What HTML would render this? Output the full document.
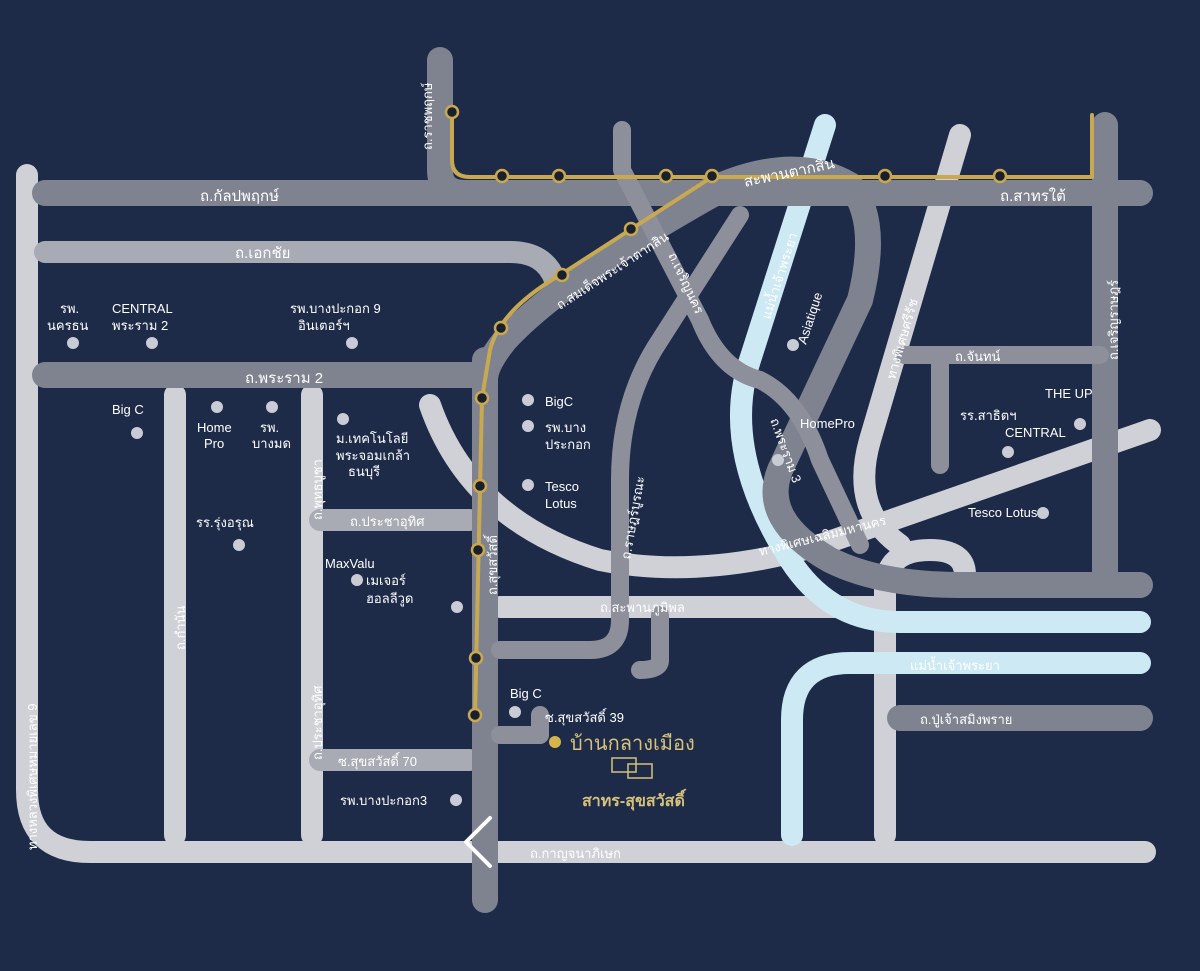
<!DOCTYPE html>
<html><head><meta charset="utf-8"><style>
html,body{margin:0;padding:0;background:#1d2a48;}
svg{display:block;font-family:"Liberation Sans","Noto Sans CJK SC",sans-serif;}
.t{fill:#fff;font-size:15px}
.s{fill:#fff;font-size:13px}
</style></head><body>
<svg width="1200" height="971" viewBox="0 0 1200 971" xmlns="http://www.w3.org/2000/svg">
<rect width="1200" height="971" fill="#1d2a48"/>
<g fill="none" stroke-linecap="round" stroke-linejoin="round">
<g stroke="#cfd1d6" stroke-width="22">
<path d="M27 175 V790 Q27 852 90 852 H1145"/>
<path d="M175 395 V835"/>
<path d="M312 395 V835"/>
<path d="M500 607 H880"/>
<path d="M430 405 Q470 520 600 560 Q700 580 820 545 L1150 430"/>
<path d="M885 835 V590 Q885 550 930 550 Q965 550 965 575"/>
<path d="M960 135 L870 440 Q850 510 900 545"/>
</g>
<g stroke="#a8abb4" stroke-width="22">
<path d="M45 252 H510 Q545 252 555 280"/>
<path d="M320 520 H470"/>
<path d="M320 760 H470"/>
</g>
<g stroke="#cde9f4" stroke-width="22">
<path d="M825 125 L750 360 Q720 450 790 560 Q830 622 900 622 H1140"/>
<path d="M792 835 V720 Q792 663 850 663 H1140"/>
</g>
<g stroke="#7f838f" stroke-width="26">
<path d="M45 193 H1140"/>
<path d="M440 60 V170 Q440 193 465 193"/>
<path d="M45 375 H480"/>
<path d="M485 360 V900"/>
<path d="M715 193 Q560 280 505 340 Q485 365 485 380"/>
<path d="M700 195 Q790 150 850 185 Q880 220 860 300 L780 470 Q760 520 830 560 Q880 585 960 585 H1140"/>
<path d="M1105 125 V585"/>
<path d="M900 718 H1140"/>
</g>
<g stroke="#8d909b" stroke-width="18">
<path d="M622 130 V170 L700 320 Q720 370 760 380 Q800 400 820 460 L860 545"/>
<path d="M740 215 L660 340 Q620 400 620 480 V620 Q620 650 590 650 H500"/>
<path d="M660 615 V660 Q660 670 640 670"/>
<path d="M500 735 H540 V715"/>
<path d="M905 355 H1100"/>
<path d="M940 360 V465"/>
</g>
<path d="M490 818 L466 842 L490 866" stroke="#ffffff" stroke-width="4"/>
<g stroke="#c8a951" stroke-width="4">
<path d="M452 112 V160 Q452 177 470 177 H1092 V115"/>
<path d="M712 177 L560 275 Q500 310 490 350 L482 398 L475 715"/>
</g>
</g>
<g fill="#1a1f2c" stroke="#c8a951" stroke-width="2.5">
<circle cx="452" cy="112" r="6"/><circle cx="502" cy="176" r="6"/><circle cx="559" cy="176" r="6"/><circle cx="666" cy="176" r="6"/><circle cx="712" cy="176" r="6"/><circle cx="885" cy="176" r="6"/><circle cx="1000" cy="176" r="6"/>
<circle cx="631" cy="229" r="6"/><circle cx="562" cy="275" r="6"/><circle cx="501" cy="328" r="6"/><circle cx="482" cy="398" r="6"/><circle cx="480" cy="486" r="6"/><circle cx="478" cy="550" r="6"/><circle cx="476" cy="658" r="6"/><circle cx="475" cy="715" r="6"/>
</g>
<g fill="#c9ccd4">
<circle cx="73" cy="343" r="6"/><circle cx="152" cy="343" r="6"/><circle cx="352" cy="343" r="6"/><circle cx="137" cy="433" r="6"/><circle cx="217" cy="407" r="6"/><circle cx="272" cy="407" r="6"/><circle cx="343" cy="419" r="6"/><circle cx="239" cy="545" r="6"/><circle cx="357" cy="580" r="6"/><circle cx="457" cy="607" r="6"/><circle cx="456" cy="800" r="6"/><circle cx="528" cy="400" r="6"/><circle cx="528" cy="426" r="6"/><circle cx="528" cy="485" r="6"/><circle cx="515" cy="712" r="6"/><circle cx="793" cy="345" r="6"/><circle cx="778" cy="460" r="6"/><circle cx="1008" cy="452" r="6"/><circle cx="1080" cy="424" r="6"/><circle cx="1043" cy="513" r="6"/>
</g>
<circle cx="555" cy="742" r="6" fill="#d6b54a"/>
<text class="t" x="200" y="201">ถ.กัลปพฤกษ์</text>
<text class="t" x="1000" y="201">ถ.สาทรใต้</text>
<text class="t" x="745" y="187" transform="rotate(-12 745 187)">สะพานตากสิน</text>
<text class="t" x="235" y="258">ถ.เอกชัย</text>
<text class="t" x="245" y="383">ถ.พระราม 2</text>
<text class="s" x="60" y="313">รพ.</text><text class="s" x="47" y="330">นครธน</text>
<text class="s" x="112" y="313">CENTRAL</text><text class="s" x="112" y="330">พระราม 2</text>
<text class="s" x="290" y="313">รพ.บางปะกอก 9</text><text class="s" x="298" y="330">อินเตอร์ฯ</text>
<text class="s" x="112" y="414">Big C</text>
<text class="s" x="197" y="432">Home</text><text class="s" x="204" y="448">Pro</text>
<text class="s" x="260" y="432">รพ.</text><text class="s" x="252" y="448">บางมด</text>
<text class="s" x="336" y="443">ม.เทคโนโลยี</text><text class="s" x="336" y="460">พระจอมเกล้า</text><text class="s" x="348" y="476">ธนบุรี</text>
<text class="s" x="196" y="527">รร.รุ่งอรุณ</text>
<text class="s" x="350" y="526">ถ.ประชาอุทิศ</text>
<text class="s" x="325" y="568">MaxValu</text>
<text class="s" x="366" y="585">เมเจอร์</text><text class="s" x="366" y="603">ฮอลลีวูด</text>
<text class="s" x="338" y="766">ซ.สุขสวัสดิ์ 70</text>
<text class="s" x="340" y="805">รพ.บางปะกอก3</text>
<text class="s" x="545" y="406">BigC</text>
<text class="s" x="545" y="432">รพ.บาง</text><text class="s" x="545" y="449">ประกอก</text>
<text class="s" x="545" y="491">Tesco</text><text class="s" x="545" y="508">Lotus</text>
<text class="s" x="510" y="698">Big C</text>
<text class="s" x="545" y="722">ซ.สุขสวัสดิ์ 39</text>
<text class="s" x="600" y="612">ถ.สะพานภูมิพล</text>
<text class="s" x="530" y="858">ถ.กาญจนาภิเษก</text>
<text class="s" x="910" y="670">แม่น้ำเจ้าพระยา</text>
<text class="s" x="920" y="724">ถ.ปู่เจ้าสมิงพราย</text>
<text class="s" x="760" y="556" transform="rotate(-14 760 556)">ทางพิเศษเฉลิมมหานคร</text>
<text x="570" y="750" fill="#d6c27a" font-size="20">บ้านกลางเมือง</text>
<rect x="612" y="758" width="24" height="14" fill="none" stroke="#d6c27a" stroke-width="1.5"/><rect x="628" y="764" width="24" height="14" fill="none" stroke="#d6c27a" stroke-width="1.5"/>
<text x="582" y="806" fill="#d6c27a" font-size="16" font-weight="bold">สาทร-สุขสวัสดิ์</text>
<text class="s" x="800" y="428">HomePro</text>
<text class="s" x="960" y="420" font-size="10">รร.สาธิตฯ</text>
<text class="s" x="1005" y="437" font-size="10">CENTRAL</text>
<text class="s" x="1045" y="398" font-size="10">THE UP</text>
<text class="s" x="968" y="517" font-size="10">Tesco Lotus</text>
<text class="s" x="955" y="361" font-size="10">ถ.จันทน์</text>
<text transform="translate(37 850) rotate(-90)" class="s">ทางหลวงพิเศษหมายเลข 9</text>
<text transform="translate(185 650) rotate(-90)" class="s">ถ.กำนัน</text>
<text transform="translate(322 760) rotate(-90)" class="s">ถ.ประชาอุทิศ</text>
<text transform="translate(322 520) rotate(-90)" class="s">ถ.พุทธบูชา</text>
<text transform="translate(497 595) rotate(-90)" class="s">ถ.สุขสวัสดิ์</text>
<text transform="translate(432 150) rotate(-90)" class="s">ถ.ราชพฤกษ์</text>
<text transform="translate(630 560) rotate(-80)" class="s">ถ.ราษฎร์บูรณะ</text>
<text transform="translate(1118 360) rotate(-90)" class="s">ถ.เจริญราษฎร์</text>
<text transform="translate(770 320) rotate(-72)" class="s">แม่น้ำเจ้าพระยา</text>
<text transform="translate(806 345) rotate(-72)" class="s">Asiatique</text>
<text transform="translate(895 380) rotate(-74)" class="s">ทางพิเศษศรีรัช</text>
<text transform="translate(770 420) rotate(70)" class="s">ถ.พระราม 3</text>
<text transform="translate(668 255) rotate(65)" class="s">ถ.เจริญนคร</text>
<text transform="translate(560 310) rotate(-33)" class="s">ถ.สมเด็จพระเจ้าตากสิน</text>
</svg>
</body></html>
